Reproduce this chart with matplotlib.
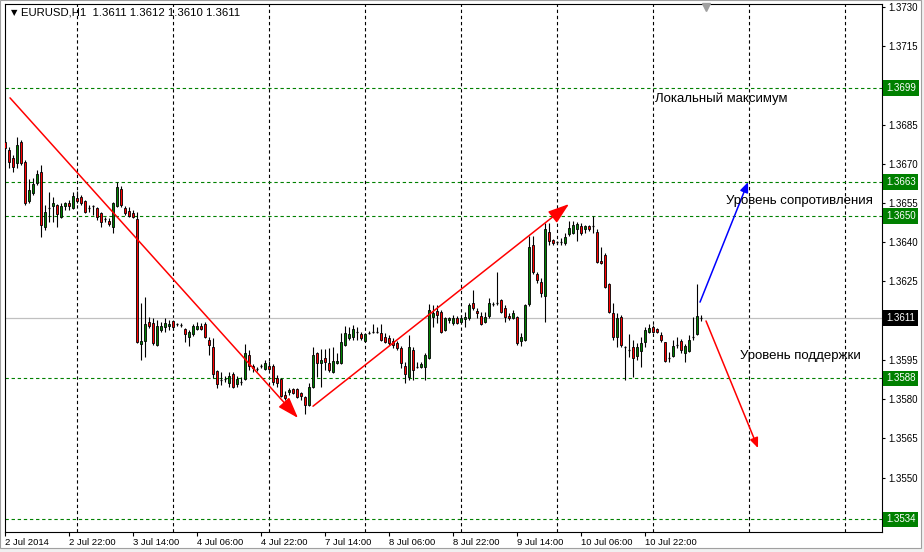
import matplotlib
matplotlib.use("Agg")
import matplotlib.pyplot as plt
from matplotlib.patches import Rectangle
import numpy as np

# EURUSD H1 bars, first bar 2 Jul 2014 06:00 (x = bar number on the chart)
opens = [
    1.36783, 1.36753, 1.36722, 1.36703, 1.36783, 1.36707, 1.36557, 1.36588, 1.36626, 1.36669,
    1.36458, 1.36530, 1.36538, 1.36542, 1.36496, 1.36538, 1.36550, 1.36530, 1.36569, 1.36573,
    1.36557, 1.36530, 1.36538, 1.36530, 1.36511, 1.36488, 1.36481, 1.36458, 1.36538, 1.36604,
    1.36530, 1.36519, 1.36511, 1.36488, 1.36011, 1.36022, 1.36094, 1.36091, 1.36007, 1.36064,
    1.36075, 1.36079, 1.36098, 1.36087, 1.36083, 1.36068, 1.36037, 1.36049, 1.36068, 1.36079,
    1.36087, 1.36026, 1.35999, 1.35907, 1.35873, 1.35877, 1.35862, 1.35896, 1.35858, 1.35865,
    1.35877, 1.35969, 1.35926, 1.35915, 1.35926, 1.35915, 1.35926, 1.35926, 1.35880, 1.35877,
    1.35816, 1.35827, 1.35838, 1.35838, 1.35823, 1.35808, 1.35777, 1.35846, 1.35977, 1.35938,
    1.35957, 1.35938, 1.35903, 1.35938, 1.35938, 1.36007, 1.36033, 1.36037, 1.36056, 1.36049,
    1.36022, 1.36052, 1.36056, 1.36056, 1.36052, 1.36037, 1.36033, 1.36022, 1.36015, 1.35996,
    1.35926, 1.35884, 1.35988, 1.35922, 1.35922, 1.35922, 1.35957, 1.36114, 1.36137, 1.36133,
    1.36064, 1.36102, 1.36091, 1.36110, 1.36094, 1.36106, 1.36110, 1.36168, 1.36137, 1.36118,
    1.36094, 1.36118, 1.36164, 1.36168, 1.36179, 1.36148, 1.36118, 1.36110, 1.36114, 1.36022,
    1.36026, 1.36164, 1.36389, 1.36278, 1.36248, 1.36194, 1.36439, 1.36408, 1.36401, 1.36401,
    1.36397, 1.36431, 1.36435, 1.36450, 1.36462, 1.36450, 1.36462, 1.36462, 1.36439, 1.36328,
    1.36351, 1.36240, 1.36129, 1.36037, 1.36114, 1.35999, 1.35988, 1.35999, 1.35965, 1.35984,
    1.36018, 1.36056, 1.36075, 1.36068, 1.36045, 1.36018, 1.35957, 1.35965, 1.36007, 1.36022,
    1.35977, 1.35984, 1.36037, 1.36049, 1.36110,
]
highs = [
    1.36791, 1.36764, 1.36734, 1.36802, 1.36791, 1.36715, 1.36642, 1.36646, 1.36676, 1.36696,
    1.36542, 1.36592, 1.36573, 1.36546, 1.36550, 1.36553, 1.36561, 1.36592, 1.36596, 1.36581,
    1.36561, 1.36542, 1.36542, 1.36534, 1.36515, 1.36496, 1.36492, 1.36553, 1.36630, 1.36615,
    1.36538, 1.36534, 1.36523, 1.36515, 1.36168, 1.36190, 1.36114, 1.36110, 1.36102, 1.36094,
    1.36110, 1.36102, 1.36102, 1.36091, 1.36091, 1.36071, 1.36064, 1.36087, 1.36094, 1.36091,
    1.36094, 1.36037, 1.36033, 1.35911, 1.35903, 1.35888, 1.35903, 1.35903, 1.35888, 1.35884,
    1.36011, 1.35988, 1.35934, 1.35922, 1.35934, 1.35949, 1.35945, 1.35934, 1.35892, 1.35880,
    1.35831, 1.35842, 1.35842, 1.35842, 1.35827, 1.35812, 1.35862, 1.35999, 1.35980, 1.35992,
    1.35992, 1.35996, 1.35999, 1.35977, 1.36052, 1.36079, 1.36075, 1.36083, 1.36075, 1.36056,
    1.36052, 1.36060, 1.36087, 1.36075, 1.36087, 1.36052, 1.36045, 1.36033, 1.36022, 1.36003,
    1.35942, 1.36045, 1.35999, 1.35942, 1.35942, 1.35977, 1.36164, 1.36160, 1.36160, 1.36141,
    1.36114, 1.36114, 1.36122, 1.36118, 1.36122, 1.36133, 1.36168, 1.36217, 1.36148, 1.36133,
    1.36133, 1.36187, 1.36171, 1.36286, 1.36183, 1.36160, 1.36129, 1.36141, 1.36118, 1.36052,
    1.36164, 1.36424, 1.36424, 1.36286, 1.36263, 1.36473, 1.36473, 1.36412, 1.36404, 1.36416,
    1.36435, 1.36481, 1.36481, 1.36477, 1.36473, 1.36466, 1.36466, 1.36500, 1.36450, 1.36381,
    1.36359, 1.36244, 1.36168, 1.36129, 1.36122, 1.36003, 1.36049, 1.36026, 1.36015, 1.36037,
    1.36075, 1.36087, 1.36083, 1.36071, 1.36056, 1.36018, 1.35980, 1.36026, 1.36037, 1.36030,
    1.36011, 1.36045, 1.36114, 1.36240, 1.36120,
]
lows = [
    1.36753, 1.36684, 1.36669, 1.36684, 1.36696, 1.36542, 1.36550, 1.36581, 1.36619, 1.36420,
    1.36447, 1.36477, 1.36477, 1.36458, 1.36492, 1.36523, 1.36523, 1.36527, 1.36550, 1.36542,
    1.36511, 1.36515, 1.36504, 1.36485, 1.36458, 1.36477, 1.36462, 1.36435, 1.36534, 1.36534,
    1.36504, 1.36496, 1.36492, 1.36015, 1.35949, 1.35961, 1.36071, 1.36007, 1.36003, 1.36056,
    1.36056, 1.36064, 1.36064, 1.36079, 1.36075, 1.36018, 1.36003, 1.36041, 1.36064, 1.36064,
    1.36033, 1.35969, 1.35880, 1.35842, 1.35854, 1.35865, 1.35846, 1.35842, 1.35846, 1.35854,
    1.35873, 1.35911, 1.35903, 1.35907, 1.35918, 1.35911, 1.35911, 1.35854, 1.35846, 1.35808,
    1.35796, 1.35816, 1.35820, 1.35804, 1.35796, 1.35743, 1.35773, 1.35842, 1.35884, 1.35846,
    1.35911, 1.35903, 1.35900, 1.35934, 1.35934, 1.36003, 1.36026, 1.36026, 1.36026, 1.36026,
    1.36018, 1.36049, 1.36052, 1.36052, 1.36022, 1.36015, 1.36007, 1.35996, 1.35988, 1.35918,
    1.35862, 1.35873, 1.35873, 1.35918, 1.35918, 1.35873, 1.35953, 1.36075, 1.36091, 1.36052,
    1.36060, 1.36091, 1.36083, 1.36087, 1.36091, 1.36075, 1.36102, 1.36141, 1.36110, 1.36083,
    1.36091, 1.36110, 1.36156, 1.36160, 1.36129, 1.36094, 1.36102, 1.36106, 1.36007, 1.36003,
    1.36022, 1.36156, 1.36278, 1.36244, 1.36190, 1.36094, 1.36389, 1.36389, 1.36393, 1.36389,
    1.36389, 1.36424, 1.36431, 1.36404, 1.36427, 1.36435, 1.36443, 1.36435, 1.36320, 1.36316,
    1.36225, 1.36129, 1.36026, 1.35999, 1.35999, 1.35873, 1.35961, 1.35884, 1.35949, 1.35922,
    1.35999, 1.36052, 1.36052, 1.36052, 1.36018, 1.35942, 1.35942, 1.35961, 1.35996, 1.35977,
    1.35942, 1.35980, 1.36026, 1.36045, 1.36100,
]
closes = [
    1.36760, 1.36707, 1.36688, 1.36772, 1.36703, 1.36550, 1.36600, 1.36623, 1.36661, 1.36466,
    1.36515, 1.36530, 1.36550, 1.36508, 1.36538, 1.36550, 1.36538, 1.36577, 1.36557, 1.36550,
    1.36515, 1.36530, 1.36538, 1.36496, 1.36477, 1.36488, 1.36469, 1.36550, 1.36611, 1.36542,
    1.36511, 1.36500, 1.36496, 1.36018, 1.36022, 1.36087, 1.36079, 1.36015, 1.36079, 1.36079,
    1.36091, 1.36087, 1.36075, 1.36087, 1.36083, 1.36049, 1.36056, 1.36079, 1.36079, 1.36068,
    1.36037, 1.36007, 1.35896, 1.35858, 1.35873, 1.35877, 1.35888, 1.35846, 1.35877, 1.35865,
    1.35977, 1.35926, 1.35918, 1.35915, 1.35926, 1.35938, 1.35915, 1.35865, 1.35862, 1.35812,
    1.35804, 1.35835, 1.35823, 1.35808, 1.35812, 1.35777, 1.35846, 1.35969, 1.35938, 1.35949,
    1.35942, 1.35911, 1.35945, 1.35945, 1.36018, 1.36052, 1.36049, 1.36068, 1.36056, 1.36033,
    1.36049, 1.36052, 1.36056, 1.36056, 1.36026, 1.36018, 1.36015, 1.36007, 1.35996, 1.35938,
    1.35896, 1.35999, 1.35911, 1.35922, 1.35934, 1.35969, 1.36141, 1.36129, 1.36122, 1.36056,
    1.36110, 1.36110, 1.36110, 1.36091, 1.36110, 1.36114, 1.36160, 1.36148, 1.36129, 1.36087,
    1.36114, 1.36168, 1.36164, 1.36168, 1.36133, 1.36114, 1.36110, 1.36129, 1.36015, 1.36037,
    1.36160, 1.36381, 1.36286, 1.36255, 1.36206, 1.36450, 1.36404, 1.36397, 1.36401, 1.36401,
    1.36420, 1.36454, 1.36466, 1.36469, 1.36435, 1.36462, 1.36450, 1.36462, 1.36324, 1.36320,
    1.36228, 1.36133, 1.36037, 1.36110, 1.36007, 1.35999, 1.35988, 1.35957, 1.35999, 1.36015,
    1.36064, 1.36071, 1.36056, 1.36056, 1.36026, 1.35945, 1.35957, 1.36003, 1.36007, 1.35988,
    1.36003, 1.36026, 1.36037, 1.36118, 1.36110,
]

# time axis: one label every 16 bars
time_labels = ["2 Jul 2014", "2 Jul 22:00", "3 Jul 14:00", "4 Jul 06:00", "4 Jul 22:00",
               "7 Jul 14:00", "8 Jul 06:00", "8 Jul 22:00", "9 Jul 14:00", "10 Jul 06:00",
               "10 Jul 22:00"]
label_every = 16
# day separators (dashed grid), first one is 3 Jul 00:00
grid_bars = [18, 42, 66, 90, 114, 138, 162, 186, 210]

price_ticks = [1.3535, 1.3550, 1.3565, 1.3580, 1.3595, 1.3610, 1.3625, 1.3640,
               1.3655, 1.3670, 1.3685, 1.3700, 1.3715, 1.3730]
# these scale labels sit under the coloured level labels
hidden_ticks = [1.3535, 1.3610, 1.3700]

# horizontal levels drawn by hand + current bid
levels = [1.3699, 1.3663, 1.3650, 1.3588, 1.3534]
bid = 1.3611

# trend arrows (bar, price) -> (bar, price), colour, big head?
arrows = [
    ((1.25, 1.36952), (73.25, 1.35728), "red", True),
    ((77.0, 1.35773), (141.0, 1.36546), "red", True),
    ((173.75, 1.36171), (185.75, 1.36630), "blue", False),
    ((175.25, 1.36099), (188.25, 1.35613), "red", False),
]

notes = [
    (162.5, 1.36947, "Локальный максимум"),
    (180.25, 1.36558, "Уровень сопротивления"),
    (183.75, 1.35965, "Уровень поддержки"),
]

plt.rcParams["font.family"] = ["Liberation Sans", "DejaVu Sans"]

W, H = 924, 552
fig = plt.figure(figsize=(W / 100, H / 100), dpi=100)
fig.patch.set_facecolor("#f0f0f0")
fig.patches.append(Rectangle((0, 4 / H), 921 / W, 548 / H, transform=fig.transFigure,
                             fc="white", ec="#a0a0a0", lw=0.8, zorder=-5))

ax = fig.add_axes([4.5 / W, 20 / H, 877.5 / W, 528 / H])
ax.set_facecolor("white")
ax.set_zorder(1)

o = np.array(opens)
hi = np.array(highs)
lo = np.array(lows)
c = np.array(closes)
x = np.arange(len(o))

# wicks then bodies
ax.vlines(x, lo, hi, color="black", lw=0.8, zorder=3)
up = c > o
dn = c < o
eq = c == o
body_w = 0.72
ax.bar(x[up], (c - o)[up], bottom=o[up], width=body_w, color="#008000",
       edgecolor="black", linewidth=0.6, zorder=4)
ax.bar(x[dn], (c - o)[dn], bottom=o[dn], width=body_w, color="#ff0000",
       edgecolor="black", linewidth=0.6, zorder=4)
ax.hlines(o[eq], x[eq] - body_w / 2, x[eq] + body_w / 2, color="black", lw=0.9, zorder=4)

# grid: vertical dashed day separators
for g in grid_bars:
    ax.axvline(g, color="black", lw=0.8, dashes=(3, 2.5), zorder=1)

for lv in levels:
    ax.axhline(lv, color="#008000", lw=0.8, dashes=(3, 2.5), zorder=2)
ax.axhline(bid, color="#c0c0c0", lw=0.9, zorder=2)

for (x0, y0), (x1, y1), col, big in arrows:
    if big:
        style = "-|>,head_length=0.65,head_width=0.22"
        ms = 20
    else:
        style = "-|>,head_length=0.6,head_width=0.25"
        ms = 10
    ax.annotate("", xy=(x1, y1), xytext=(x0, y0),
                arrowprops=dict(arrowstyle=style, color=col, lw=1.1,
                                mutation_scale=ms, shrinkA=0, shrinkB=0),
                zorder=6)

for nx, ny, txt in notes:
    ax.text(nx, ny, txt, fontsize=9.5, color="black", ha="left", va="center", zorder=7)

ax.set_xlim(-0.125, 219.25)
ax.set_ylim(1.35292, 1.37311)

# axes / ticks
for s in ax.spines.values():
    s.set_color("black")
    s.set_linewidth(0.8)
ax.yaxis.tick_right()
ax.set_yticks(price_ticks)
ax.set_yticklabels(["" if p in hidden_ticks else "%.4f" % p for p in price_ticks])
ax.tick_params(axis="y", length=2.5, width=0.8, pad=2, labelsize=7, colors="black")
ax.set_xticks(x[::label_every][:len(time_labels)])
ax.set_xticklabels(time_labels)
ax.tick_params(axis="x", length=3, width=0.8, pad=1.5, labelsize=6.8, colors="black")
for t in ax.get_xticklabels():
    t.set_ha("left")

# coloured price labels on the right scale
ytr = ax.get_yaxis_transform()
for lv in levels:
    ax.text(1.0045, lv, "%.4f" % lv, transform=ytr, fontsize=7, color="white",
            ha="left", va="center", zorder=10,
            bbox=dict(boxstyle="square,pad=0.28", fc="#008000", ec="none"))
ax.text(1.0045, bid, "%.4f" % bid, transform=ytr, fontsize=7, color="white",
        ha="left", va="center", zorder=10,
        bbox=dict(boxstyle="square,pad=0.28", fc="black", ec="none"))

# header: symbol, timeframe and last bar OHLC
ax.text(0.007, 0.983, "\u25bc", transform=ax.transAxes, fontsize=6,
        family="DejaVu Sans", ha="left", va="center")
ax.text(0.019, 0.983, "EURUSD,H1  %.4f %.4f %.4f %.4f" % (opens[-1], highs[-1], lows[-1], closes[-1]),
        transform=ax.transAxes, fontsize=8.2, ha="left", va="center")

# chart shift marker
ax.plot([175.25], [0.995], transform=ax.get_xaxis_transform(), marker="v",
        color="#a0a0a0", ms=6, clip_on=False, zorder=8)

fig.savefig("out.png", dpi=100)
